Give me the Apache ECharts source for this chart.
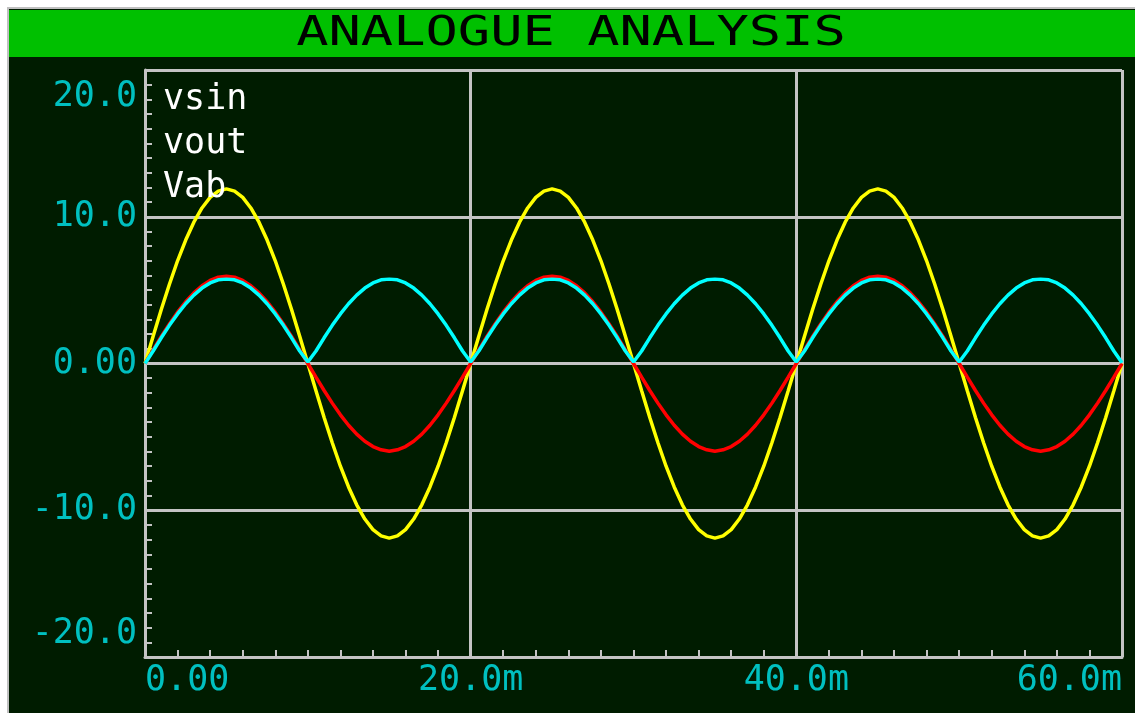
<!DOCTYPE html>
<html>
<head>
<meta charset="utf-8">
<script src="https://cdn.jsdelivr.net/npm/echarts@6/dist/echarts.min.js"></script>
<style>
html,body{margin:0;padding:0;background:#ffffff;}
#chart{width:1135px;height:713px;}
</style>
</head>
<body>
<div id="chart"></div>
<script>
// ---- data (time in ms, voltages in V) ----
const titleText = 'ANALOGUE ANALYSIS';
const seriesNames = ['vsin', 'vout', 'Vab'];
const xTickLabels = {0: '0.00', 20: '20.0m', 40: '40.0m', 60: '60.0m'};
const yTickLabels = {20: '20.0', 10: '10.0', 0: '0.00', '-10': '-10.0', '-20': '-20.0'};

const timeMs = [
0,0.5,1,1.5,2,2.5,3,3.5,4,4.5,5,5.5,6,6.5,7,7.5,8,8.5,9,9.5,
10,10.5,11,11.5,12,12.5,13,13.5,14,14.5,15,15.5,16,16.5,17,17.5,18,18.5,19,19.5,
20,20.5,21,21.5,22,22.5,23,23.5,24,24.5,25,25.5,26,26.5,27,27.5,28,28.5,29,29.5,
30,30.5,31,31.5,32,32.5,33,33.5,34,34.5,35,35.5,36,36.5,37,37.5,38,38.5,39,39.5,
40,40.5,41,41.5,42,42.5,43,43.5,44,44.5,45,45.5,46,46.5,47,47.5,48,48.5,49,49.5,
50,50.5,51,51.5,52,52.5,53,53.5,54,54.5,55,55.5,56,56.5,57,57.5,58,58.5,59,59.5,
60];

const vsin = [
0,1.86,3.68,5.40,7.00,8.41,9.63,10.60,11.32,11.75,11.90,11.75,11.32,10.60,9.63,8.41,7.00,5.40,3.68,1.86,
0,-1.86,-3.68,-5.40,-7.00,-8.41,-9.63,-10.60,-11.32,-11.75,-11.90,-11.75,-11.32,-10.60,-9.63,-8.41,-7.00,-5.40,-3.68,-1.86,
0,1.86,3.68,5.40,7.00,8.41,9.63,10.60,11.32,11.75,11.90,11.75,11.32,10.60,9.63,8.41,7.00,5.40,3.68,1.86,
0,-1.86,-3.68,-5.40,-7.00,-8.41,-9.63,-10.60,-11.32,-11.75,-11.90,-11.75,-11.32,-10.60,-9.63,-8.41,-7.00,-5.40,-3.68,-1.86,
0,1.86,3.68,5.40,7.00,8.41,9.63,10.60,11.32,11.75,11.90,11.75,11.32,10.60,9.63,8.41,7.00,5.40,3.68,1.86,
0,-1.86,-3.68,-5.40,-7.00,-8.41,-9.63,-10.60,-11.32,-11.75,-11.90,-11.75,-11.32,-10.60,-9.63,-8.41,-7.00,-5.40,-3.68,-1.86,
0];

const vout = [
0,0.93,1.84,2.70,3.50,4.21,4.81,5.30,5.66,5.88,5.95,5.88,5.66,5.30,4.81,4.21,3.50,2.70,1.84,0.93,
0,-0.93,-1.84,-2.70,-3.50,-4.21,-4.81,-5.30,-5.66,-5.88,-5.98,-5.88,-5.66,-5.30,-4.81,-4.21,-3.50,-2.70,-1.84,-0.93,
0,0.93,1.84,2.70,3.50,4.21,4.81,5.30,5.66,5.88,5.95,5.88,5.66,5.30,4.81,4.21,3.50,2.70,1.84,0.93,
0,-0.93,-1.84,-2.70,-3.50,-4.21,-4.81,-5.30,-5.66,-5.88,-5.98,-5.88,-5.66,-5.30,-4.81,-4.21,-3.50,-2.70,-1.84,-0.93,
0,0.93,1.84,2.70,3.50,4.21,4.81,5.30,5.66,5.88,5.95,5.88,5.66,5.30,4.81,4.21,3.50,2.70,1.84,0.93,
0,-0.93,-1.84,-2.70,-3.50,-4.21,-4.81,-5.30,-5.66,-5.88,-5.98,-5.88,-5.66,-5.30,-4.81,-4.21,-3.50,-2.70,-1.84,-0.93,
0];

const vab = [
0,0.85,1.75,2.60,3.38,4.07,4.66,5.14,5.49,5.70,5.75,5.70,5.49,5.14,4.66,4.07,3.38,2.60,1.75,0.85,
0.10,0.85,1.75,2.60,3.38,4.07,4.66,5.14,5.49,5.70,5.75,5.70,5.49,5.14,4.66,4.07,3.38,2.60,1.75,0.85,
0.10,0.85,1.75,2.60,3.38,4.07,4.66,5.14,5.49,5.70,5.75,5.70,5.49,5.14,4.66,4.07,3.38,2.60,1.75,0.85,
0.10,0.85,1.75,2.60,3.38,4.07,4.66,5.14,5.49,5.70,5.75,5.70,5.49,5.14,4.66,4.07,3.38,2.60,1.75,0.85,
0.10,0.85,1.75,2.60,3.38,4.07,4.66,5.14,5.49,5.70,5.75,5.70,5.49,5.14,4.66,4.07,3.38,2.60,1.75,0.85,
0.10,0.85,1.75,2.60,3.38,4.07,4.66,5.14,5.49,5.70,5.75,5.70,5.49,5.14,4.66,4.07,3.38,2.60,1.75,0.85,
0.05];

const seriesValues = [vsin, vout, vab];
const seriesColors = ['#ffff00', '#ff0000', '#00ffff'];

// ---- chart ----
const FONT = '"DejaVu Sans Mono", monospace';
const LABEL_COLOR = '#00c0c0';
const GRID_COLOR = '#c4c4c4';

function pairs(vals) { return timeMs.map((t, i) => [t, vals[i]]); }

const chart = echarts.init(document.getElementById('chart'), null, {renderer: 'canvas'});

const option = {
  backgroundColor: 'transparent',
  animation: false,
  graphic: {
    elements: [
      {type: 'rect', z: -20, silent: true,
       shape: {x: 8, y: 8, width: 1150, height: 730},
       style: {fill: '#001c00', stroke: '#c0c0c0', lineWidth: 2}},
      {type: 'rect', z: -19, silent: true,
       shape: {x: 9, y: 10, width: 1140, height: 47},
       style: {fill: '#00c000'}},
      {type: 'text', z: -18, silent: true, x: 571, y: 34, scaleX: 1.31,
       style: {text: titleText, font: '41px ' + FONT, fill: '#000000',
               align: 'center', verticalAlign: 'middle'}}
    ]
  },
  grid: {left: 145, right: 13, top: 70, bottom: 56, containLabel: false},
  legend: {
    data: seriesNames,
    orient: 'vertical',
    left: 153, top: 73,
    itemWidth: 0, itemHeight: 0, itemGap: 0,
    icon: 'rect',
    textStyle: {color: '#ffffff', fontFamily: FONT, fontSize: 35, lineHeight: 44},
    selectedMode: false
  },
  xAxis: {
    type: 'value', min: 0, max: 60, interval: 20,
    axisLine: {show: true, onZero: false, lineStyle: {color: GRID_COLOR, width: 3}},
    axisTick: {show: true, inside: true, length: 7, lineStyle: {color: GRID_COLOR, width: 2}},
    minorTick: {show: true, splitNumber: 10, length: 7, lineStyle: {color: GRID_COLOR, width: 2}},
    splitLine: {show: true, lineStyle: {color: GRID_COLOR, width: 3}},
    axisLabel: {
      color: LABEL_COLOR, fontFamily: FONT, fontSize: 35, margin: 6,
      alignMinLabel: 'left', alignMaxLabel: 'right',
      formatter: v => xTickLabels[v] !== undefined ? xTickLabels[v] : ''
    }
  },
  yAxis: {
    type: 'value', min: -20, max: 20, interval: 10,
    axisLine: {show: true, onZero: false, lineStyle: {color: GRID_COLOR, width: 3}},
    axisTick: {show: true, inside: true, length: 7, lineStyle: {color: GRID_COLOR, width: 2}},
    minorTick: {show: true, splitNumber: 10, length: 7, lineStyle: {color: GRID_COLOR, width: 2}},
    splitLine: {show: true, lineStyle: {color: GRID_COLOR, width: 3}},
    axisLabel: {
      color: LABEL_COLOR, fontFamily: FONT, fontSize: 35, margin: 8,
      formatter: v => {
        const s = yTickLabels[v];
        if (s === undefined) return '';
        if (v === 20) return '{top|' + s + '}';
        if (v === -20) return '{bot|' + s + '}';
        return s;
      },
      rich: {
        top: {color: LABEL_COLOR, fontFamily: FONT, fontSize: 35, padding: [54, 0, 0, 0]},
        bot: {color: LABEL_COLOR, fontFamily: FONT, fontSize: 35, padding: [0, 0, 46, 0]}
      }
    }
  },
  series: seriesNames.map((name, i) => ({
    name: name,
    type: 'line',
    data: pairs(seriesValues[i]),
    showSymbol: false,
    symbol: 'none',
    color: seriesColors[i],
    lineStyle: {color: seriesColors[i], width: 3.5},
    z: 2 + i
  }))
};

chart.setOption(option);
</script>
</body>
</html>
